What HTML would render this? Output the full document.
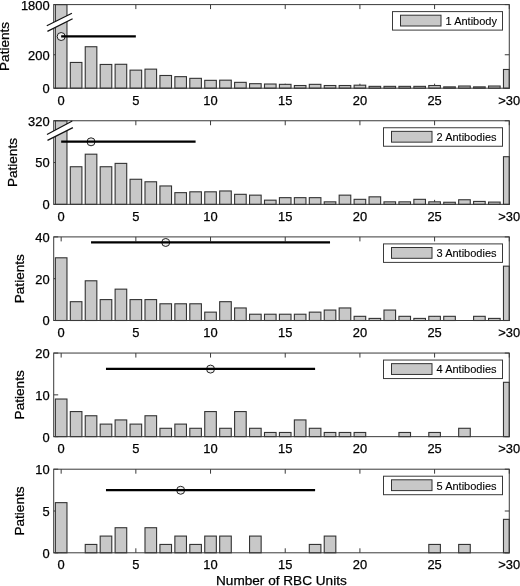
<!DOCTYPE html>
<html><head><meta charset="utf-8"><style>
html,body{margin:0;padding:0;background:#fff;}
svg{display:block;will-change:transform;}
text{font-family:"Liberation Sans", sans-serif;fill:#000;stroke:#000;stroke-width:0.25px;}
.tk{font-size:12.9px;}
.lg{font-size:11px;stroke-width:0.1px;}
.lb{font-size:13.6px;}
</style></head><body>
<svg width="520" height="586" viewBox="0 0 520 586">
<rect width="520" height="586" fill="#fff"/>
<line x1="61.17" y1="88.2" x2="61.17" y2="83.7" stroke="#3a3a3a" stroke-width="1"/>
<line x1="61.17" y1="4.6" x2="61.17" y2="9.1" stroke="#3a3a3a" stroke-width="1"/>
<line x1="135.85" y1="88.2" x2="135.85" y2="83.7" stroke="#3a3a3a" stroke-width="1"/>
<line x1="135.85" y1="4.6" x2="135.85" y2="9.1" stroke="#3a3a3a" stroke-width="1"/>
<line x1="210.54" y1="88.2" x2="210.54" y2="83.7" stroke="#3a3a3a" stroke-width="1"/>
<line x1="210.54" y1="4.6" x2="210.54" y2="9.1" stroke="#3a3a3a" stroke-width="1"/>
<line x1="285.22" y1="88.2" x2="285.22" y2="83.7" stroke="#3a3a3a" stroke-width="1"/>
<line x1="285.22" y1="4.6" x2="285.22" y2="9.1" stroke="#3a3a3a" stroke-width="1"/>
<line x1="359.91" y1="88.2" x2="359.91" y2="83.7" stroke="#3a3a3a" stroke-width="1"/>
<line x1="359.91" y1="4.6" x2="359.91" y2="9.1" stroke="#3a3a3a" stroke-width="1"/>
<line x1="434.59" y1="88.2" x2="434.59" y2="83.7" stroke="#3a3a3a" stroke-width="1"/>
<line x1="434.59" y1="4.6" x2="434.59" y2="9.1" stroke="#3a3a3a" stroke-width="1"/>
<line x1="509.28" y1="88.2" x2="509.28" y2="83.7" stroke="#3a3a3a" stroke-width="1"/>
<line x1="509.28" y1="4.6" x2="509.28" y2="9.1" stroke="#3a3a3a" stroke-width="1"/>
<line x1="53.7" y1="88.2" x2="58.2" y2="88.2" stroke="#3a3a3a" stroke-width="1"/>
<line x1="509.28" y1="88.2" x2="504.78" y2="88.2" stroke="#3a3a3a" stroke-width="1"/>
<line x1="53.7" y1="54.76" x2="58.2" y2="54.76" stroke="#3a3a3a" stroke-width="1"/>
<line x1="509.28" y1="54.76" x2="504.78" y2="54.76" stroke="#3a3a3a" stroke-width="1"/>
<line x1="53.7" y1="4.6" x2="58.2" y2="4.6" stroke="#3a3a3a" stroke-width="1"/>
<line x1="509.28" y1="4.6" x2="504.78" y2="4.6" stroke="#3a3a3a" stroke-width="1"/>
<rect x="55.37" y="4.6" width="11.6" height="83.6" fill="#c8c8c8" stroke="#333" stroke-width="1.1"/>
<rect x="70.31" y="62.45" width="11.6" height="25.75" fill="#c8c8c8" stroke="#333" stroke-width="1.1"/>
<rect x="85.24" y="46.73" width="11.6" height="41.47" fill="#c8c8c8" stroke="#333" stroke-width="1.1"/>
<rect x="100.18" y="64.46" width="11.6" height="23.74" fill="#c8c8c8" stroke="#333" stroke-width="1.1"/>
<rect x="115.12" y="64.29" width="11.6" height="23.91" fill="#c8c8c8" stroke="#333" stroke-width="1.1"/>
<rect x="130.05" y="70.14" width="11.6" height="18.06" fill="#c8c8c8" stroke="#333" stroke-width="1.1"/>
<rect x="144.99" y="69.14" width="11.6" height="19.06" fill="#c8c8c8" stroke="#333" stroke-width="1.1"/>
<rect x="159.93" y="75.49" width="11.6" height="12.71" fill="#c8c8c8" stroke="#333" stroke-width="1.1"/>
<rect x="174.86" y="76.66" width="11.6" height="11.54" fill="#c8c8c8" stroke="#333" stroke-width="1.1"/>
<rect x="189.8" y="78.34" width="11.6" height="9.86" fill="#c8c8c8" stroke="#333" stroke-width="1.1"/>
<rect x="204.74" y="80.34" width="11.6" height="7.86" fill="#c8c8c8" stroke="#333" stroke-width="1.1"/>
<rect x="219.68" y="80.17" width="11.6" height="8.03" fill="#c8c8c8" stroke="#333" stroke-width="1.1"/>
<rect x="234.61" y="82.35" width="11.6" height="5.85" fill="#c8c8c8" stroke="#333" stroke-width="1.1"/>
<rect x="249.55" y="83.69" width="11.6" height="4.51" fill="#c8c8c8" stroke="#333" stroke-width="1.1"/>
<rect x="264.49" y="84.02" width="11.6" height="4.18" fill="#c8c8c8" stroke="#333" stroke-width="1.1"/>
<rect x="279.42" y="84.35" width="11.6" height="3.85" fill="#c8c8c8" stroke="#333" stroke-width="1.1"/>
<rect x="294.36" y="85.52" width="11.6" height="2.68" fill="#c8c8c8" stroke="#333" stroke-width="1.1"/>
<rect x="309.3" y="84.35" width="11.6" height="3.85" fill="#c8c8c8" stroke="#333" stroke-width="1.1"/>
<rect x="324.23" y="85.52" width="11.6" height="2.68" fill="#c8c8c8" stroke="#333" stroke-width="1.1"/>
<rect x="339.17" y="85.52" width="11.6" height="2.68" fill="#c8c8c8" stroke="#333" stroke-width="1.1"/>
<rect x="354.11" y="85.19" width="11.6" height="3.01" fill="#c8c8c8" stroke="#333" stroke-width="1.1"/>
<rect x="369.05" y="86.36" width="11.6" height="1.84" fill="#c8c8c8" stroke="#333" stroke-width="1.1"/>
<rect x="383.98" y="86.36" width="11.6" height="1.84" fill="#c8c8c8" stroke="#333" stroke-width="1.1"/>
<rect x="398.92" y="86.36" width="11.6" height="1.84" fill="#c8c8c8" stroke="#333" stroke-width="1.1"/>
<rect x="413.86" y="86.36" width="11.6" height="1.84" fill="#c8c8c8" stroke="#333" stroke-width="1.1"/>
<rect x="428.79" y="85.52" width="11.6" height="2.68" fill="#c8c8c8" stroke="#333" stroke-width="1.1"/>
<rect x="443.73" y="86.86" width="11.6" height="1.34" fill="#c8c8c8" stroke="#333" stroke-width="1.1"/>
<rect x="458.67" y="86.03" width="11.6" height="2.17" fill="#c8c8c8" stroke="#333" stroke-width="1.1"/>
<rect x="473.6" y="86.86" width="11.6" height="1.34" fill="#c8c8c8" stroke="#333" stroke-width="1.1"/>
<rect x="488.54" y="86.03" width="11.6" height="2.17" fill="#c8c8c8" stroke="#333" stroke-width="1.1"/>
<rect x="503.48" y="69.47" width="5.8" height="18.73" fill="#c8c8c8" stroke="#333" stroke-width="1.1"/>
<text x="61.17" y="104.6" text-anchor="middle" class="tk">0</text>
<text x="135.85" y="104.6" text-anchor="middle" class="tk">5</text>
<text x="210.54" y="104.6" text-anchor="middle" class="tk">10</text>
<text x="285.22" y="104.6" text-anchor="middle" class="tk">15</text>
<text x="359.91" y="104.6" text-anchor="middle" class="tk">20</text>
<text x="434.59" y="104.6" text-anchor="middle" class="tk">25</text>
<text x="509.28" y="104.6" text-anchor="middle" class="tk">&gt;30</text>
<text x="49.6" y="93.1" text-anchor="end" class="tk">0</text>
<text x="49.6" y="59.66" text-anchor="end" class="tk">200</text>
<text x="49.6" y="9.5" text-anchor="end" class="tk">1800</text>
<rect x="53.7" y="4.6" width="455.58" height="83.6" fill="none" stroke="#3a3a3a" stroke-width="1"/>
<polygon points="46.8,25.8 71.9,13.2 72.6,18.8 47.4,31.4" fill="#fff"/>
<line x1="46.8" y1="25.8" x2="71.9" y2="13.2" stroke="#111" stroke-width="1.2"/>
<line x1="47.4" y1="31.4" x2="72.6" y2="18.8" stroke="#111" stroke-width="1.2"/>
<circle cx="61.17" cy="36.52" r="4" fill="#eee" stroke="#222" stroke-width="1"/>
<line x1="61.17" y1="36.37" x2="135.85" y2="36.37" stroke="#000" stroke-width="2.3"/>
<rect x="392.5" y="11.6" width="110" height="18.5" fill="#fff" stroke="#3a3a3a" stroke-width="1"/>
<rect x="400.5" y="15.2" width="40.5" height="10.8" fill="#c8c8c8" stroke="#333" stroke-width="1"/>
<text x="445.6" y="25" class="lg">1 Antibody</text>
<text transform="translate(9.3,46.4) rotate(-90)" text-anchor="middle" class="lb">Patients</text>
<line x1="61.17" y1="204.35" x2="61.17" y2="199.85" stroke="#3a3a3a" stroke-width="1"/>
<line x1="61.17" y1="120.75" x2="61.17" y2="125.25" stroke="#3a3a3a" stroke-width="1"/>
<line x1="135.85" y1="204.35" x2="135.85" y2="199.85" stroke="#3a3a3a" stroke-width="1"/>
<line x1="135.85" y1="120.75" x2="135.85" y2="125.25" stroke="#3a3a3a" stroke-width="1"/>
<line x1="210.54" y1="204.35" x2="210.54" y2="199.85" stroke="#3a3a3a" stroke-width="1"/>
<line x1="210.54" y1="120.75" x2="210.54" y2="125.25" stroke="#3a3a3a" stroke-width="1"/>
<line x1="285.22" y1="204.35" x2="285.22" y2="199.85" stroke="#3a3a3a" stroke-width="1"/>
<line x1="285.22" y1="120.75" x2="285.22" y2="125.25" stroke="#3a3a3a" stroke-width="1"/>
<line x1="359.91" y1="204.35" x2="359.91" y2="199.85" stroke="#3a3a3a" stroke-width="1"/>
<line x1="359.91" y1="120.75" x2="359.91" y2="125.25" stroke="#3a3a3a" stroke-width="1"/>
<line x1="434.59" y1="204.35" x2="434.59" y2="199.85" stroke="#3a3a3a" stroke-width="1"/>
<line x1="434.59" y1="120.75" x2="434.59" y2="125.25" stroke="#3a3a3a" stroke-width="1"/>
<line x1="509.28" y1="204.35" x2="509.28" y2="199.85" stroke="#3a3a3a" stroke-width="1"/>
<line x1="509.28" y1="120.75" x2="509.28" y2="125.25" stroke="#3a3a3a" stroke-width="1"/>
<line x1="53.7" y1="204.35" x2="58.2" y2="204.35" stroke="#3a3a3a" stroke-width="1"/>
<line x1="509.28" y1="204.35" x2="504.78" y2="204.35" stroke="#3a3a3a" stroke-width="1"/>
<line x1="53.7" y1="162.55" x2="58.2" y2="162.55" stroke="#3a3a3a" stroke-width="1"/>
<line x1="509.28" y1="162.55" x2="504.78" y2="162.55" stroke="#3a3a3a" stroke-width="1"/>
<line x1="53.7" y1="120.75" x2="58.2" y2="120.75" stroke="#3a3a3a" stroke-width="1"/>
<line x1="509.28" y1="120.75" x2="504.78" y2="120.75" stroke="#3a3a3a" stroke-width="1"/>
<rect x="55.37" y="120.75" width="11.6" height="83.6" fill="#c8c8c8" stroke="#333" stroke-width="1.1"/>
<rect x="70.31" y="166.73" width="11.6" height="37.62" fill="#c8c8c8" stroke="#333" stroke-width="1.1"/>
<rect x="85.24" y="154.19" width="11.6" height="50.16" fill="#c8c8c8" stroke="#333" stroke-width="1.1"/>
<rect x="100.18" y="166.73" width="11.6" height="37.62" fill="#c8c8c8" stroke="#333" stroke-width="1.1"/>
<rect x="115.12" y="163.39" width="11.6" height="40.96" fill="#c8c8c8" stroke="#333" stroke-width="1.1"/>
<rect x="130.05" y="179.27" width="11.6" height="25.08" fill="#c8c8c8" stroke="#333" stroke-width="1.1"/>
<rect x="144.99" y="181.78" width="11.6" height="22.57" fill="#c8c8c8" stroke="#333" stroke-width="1.1"/>
<rect x="159.93" y="185.96" width="11.6" height="18.39" fill="#c8c8c8" stroke="#333" stroke-width="1.1"/>
<rect x="174.86" y="192.65" width="11.6" height="11.7" fill="#c8c8c8" stroke="#333" stroke-width="1.1"/>
<rect x="189.8" y="191.81" width="11.6" height="12.54" fill="#c8c8c8" stroke="#333" stroke-width="1.1"/>
<rect x="204.74" y="191.81" width="11.6" height="12.54" fill="#c8c8c8" stroke="#333" stroke-width="1.1"/>
<rect x="219.68" y="190.97" width="11.6" height="13.38" fill="#c8c8c8" stroke="#333" stroke-width="1.1"/>
<rect x="234.61" y="194.32" width="11.6" height="10.03" fill="#c8c8c8" stroke="#333" stroke-width="1.1"/>
<rect x="249.55" y="195.15" width="11.6" height="9.2" fill="#c8c8c8" stroke="#333" stroke-width="1.1"/>
<rect x="264.49" y="200.17" width="11.6" height="4.18" fill="#c8c8c8" stroke="#333" stroke-width="1.1"/>
<rect x="279.42" y="197.66" width="11.6" height="6.69" fill="#c8c8c8" stroke="#333" stroke-width="1.1"/>
<rect x="294.36" y="197.66" width="11.6" height="6.69" fill="#c8c8c8" stroke="#333" stroke-width="1.1"/>
<rect x="309.3" y="197.66" width="11.6" height="6.69" fill="#c8c8c8" stroke="#333" stroke-width="1.1"/>
<rect x="324.23" y="201.84" width="11.6" height="2.51" fill="#c8c8c8" stroke="#333" stroke-width="1.1"/>
<rect x="339.17" y="195.15" width="11.6" height="9.2" fill="#c8c8c8" stroke="#333" stroke-width="1.1"/>
<rect x="354.11" y="199.33" width="11.6" height="5.02" fill="#c8c8c8" stroke="#333" stroke-width="1.1"/>
<rect x="369.05" y="196.83" width="11.6" height="7.52" fill="#c8c8c8" stroke="#333" stroke-width="1.1"/>
<rect x="383.98" y="201.84" width="11.6" height="2.51" fill="#c8c8c8" stroke="#333" stroke-width="1.1"/>
<rect x="398.92" y="201.84" width="11.6" height="2.51" fill="#c8c8c8" stroke="#333" stroke-width="1.1"/>
<rect x="413.86" y="199.33" width="11.6" height="5.02" fill="#c8c8c8" stroke="#333" stroke-width="1.1"/>
<rect x="428.79" y="201.84" width="11.6" height="2.51" fill="#c8c8c8" stroke="#333" stroke-width="1.1"/>
<rect x="443.73" y="202.26" width="11.6" height="2.09" fill="#c8c8c8" stroke="#333" stroke-width="1.1"/>
<rect x="458.67" y="199.75" width="11.6" height="4.6" fill="#c8c8c8" stroke="#333" stroke-width="1.1"/>
<rect x="473.6" y="201.42" width="11.6" height="2.93" fill="#c8c8c8" stroke="#333" stroke-width="1.1"/>
<rect x="488.54" y="202.09" width="11.6" height="2.26" fill="#c8c8c8" stroke="#333" stroke-width="1.1"/>
<rect x="503.48" y="156.7" width="5.8" height="47.65" fill="#c8c8c8" stroke="#333" stroke-width="1.1"/>
<text x="61.17" y="220.75" text-anchor="middle" class="tk">0</text>
<text x="135.85" y="220.75" text-anchor="middle" class="tk">5</text>
<text x="210.54" y="220.75" text-anchor="middle" class="tk">10</text>
<text x="285.22" y="220.75" text-anchor="middle" class="tk">15</text>
<text x="359.91" y="220.75" text-anchor="middle" class="tk">20</text>
<text x="434.59" y="220.75" text-anchor="middle" class="tk">25</text>
<text x="509.28" y="220.75" text-anchor="middle" class="tk">&gt;30</text>
<text x="49.6" y="209.25" text-anchor="end" class="tk">0</text>
<text x="49.6" y="167.45" text-anchor="end" class="tk">50</text>
<text x="49.6" y="125.65" text-anchor="end" class="tk">320</text>
<rect x="53.7" y="120.75" width="455.58" height="83.6" fill="none" stroke="#3a3a3a" stroke-width="1"/>
<polygon points="47,134.55 72.3,121.05 72.9,127.65 47.5,140.35" fill="#fff"/>
<line x1="47" y1="134.55" x2="72.3" y2="121.05" stroke="#111" stroke-width="1.2"/>
<line x1="47.5" y1="140.35" x2="72.9" y2="127.65" stroke="#111" stroke-width="1.2"/>
<circle cx="91.04" cy="141.8" r="4" fill="#eee" stroke="#222" stroke-width="1"/>
<line x1="61.17" y1="141.65" x2="195.6" y2="141.65" stroke="#000" stroke-width="2.3"/>
<rect x="383.5" y="127.75" width="119" height="18.5" fill="#fff" stroke="#3a3a3a" stroke-width="1"/>
<rect x="391.5" y="131.35" width="40.5" height="10.8" fill="#c8c8c8" stroke="#333" stroke-width="1"/>
<text x="436.6" y="141.15" class="lg">2 Antibodies</text>
<text transform="translate(17,162.55) rotate(-90)" text-anchor="middle" class="lb">Patients</text>
<line x1="61.17" y1="320.5" x2="61.17" y2="316" stroke="#3a3a3a" stroke-width="1"/>
<line x1="61.17" y1="236.9" x2="61.17" y2="241.4" stroke="#3a3a3a" stroke-width="1"/>
<line x1="135.85" y1="320.5" x2="135.85" y2="316" stroke="#3a3a3a" stroke-width="1"/>
<line x1="135.85" y1="236.9" x2="135.85" y2="241.4" stroke="#3a3a3a" stroke-width="1"/>
<line x1="210.54" y1="320.5" x2="210.54" y2="316" stroke="#3a3a3a" stroke-width="1"/>
<line x1="210.54" y1="236.9" x2="210.54" y2="241.4" stroke="#3a3a3a" stroke-width="1"/>
<line x1="285.22" y1="320.5" x2="285.22" y2="316" stroke="#3a3a3a" stroke-width="1"/>
<line x1="285.22" y1="236.9" x2="285.22" y2="241.4" stroke="#3a3a3a" stroke-width="1"/>
<line x1="359.91" y1="320.5" x2="359.91" y2="316" stroke="#3a3a3a" stroke-width="1"/>
<line x1="359.91" y1="236.9" x2="359.91" y2="241.4" stroke="#3a3a3a" stroke-width="1"/>
<line x1="434.59" y1="320.5" x2="434.59" y2="316" stroke="#3a3a3a" stroke-width="1"/>
<line x1="434.59" y1="236.9" x2="434.59" y2="241.4" stroke="#3a3a3a" stroke-width="1"/>
<line x1="509.28" y1="320.5" x2="509.28" y2="316" stroke="#3a3a3a" stroke-width="1"/>
<line x1="509.28" y1="236.9" x2="509.28" y2="241.4" stroke="#3a3a3a" stroke-width="1"/>
<line x1="53.7" y1="320.5" x2="58.2" y2="320.5" stroke="#3a3a3a" stroke-width="1"/>
<line x1="509.28" y1="320.5" x2="504.78" y2="320.5" stroke="#3a3a3a" stroke-width="1"/>
<line x1="53.7" y1="278.7" x2="58.2" y2="278.7" stroke="#3a3a3a" stroke-width="1"/>
<line x1="509.28" y1="278.7" x2="504.78" y2="278.7" stroke="#3a3a3a" stroke-width="1"/>
<line x1="53.7" y1="236.9" x2="58.2" y2="236.9" stroke="#3a3a3a" stroke-width="1"/>
<line x1="509.28" y1="236.9" x2="504.78" y2="236.9" stroke="#3a3a3a" stroke-width="1"/>
<rect x="55.37" y="257.8" width="11.6" height="62.7" fill="#c8c8c8" stroke="#333" stroke-width="1.1"/>
<rect x="70.31" y="301.69" width="11.6" height="18.81" fill="#c8c8c8" stroke="#333" stroke-width="1.1"/>
<rect x="85.24" y="280.79" width="11.6" height="39.71" fill="#c8c8c8" stroke="#333" stroke-width="1.1"/>
<rect x="100.18" y="299.6" width="11.6" height="20.9" fill="#c8c8c8" stroke="#333" stroke-width="1.1"/>
<rect x="115.12" y="289.15" width="11.6" height="31.35" fill="#c8c8c8" stroke="#333" stroke-width="1.1"/>
<rect x="130.05" y="299.6" width="11.6" height="20.9" fill="#c8c8c8" stroke="#333" stroke-width="1.1"/>
<rect x="144.99" y="299.6" width="11.6" height="20.9" fill="#c8c8c8" stroke="#333" stroke-width="1.1"/>
<rect x="159.93" y="303.78" width="11.6" height="16.72" fill="#c8c8c8" stroke="#333" stroke-width="1.1"/>
<rect x="174.86" y="303.78" width="11.6" height="16.72" fill="#c8c8c8" stroke="#333" stroke-width="1.1"/>
<rect x="189.8" y="303.78" width="11.6" height="16.72" fill="#c8c8c8" stroke="#333" stroke-width="1.1"/>
<rect x="204.74" y="312.14" width="11.6" height="8.36" fill="#c8c8c8" stroke="#333" stroke-width="1.1"/>
<rect x="219.68" y="301.69" width="11.6" height="18.81" fill="#c8c8c8" stroke="#333" stroke-width="1.1"/>
<rect x="234.61" y="307.96" width="11.6" height="12.54" fill="#c8c8c8" stroke="#333" stroke-width="1.1"/>
<rect x="249.55" y="314.23" width="11.6" height="6.27" fill="#c8c8c8" stroke="#333" stroke-width="1.1"/>
<rect x="264.49" y="314.23" width="11.6" height="6.27" fill="#c8c8c8" stroke="#333" stroke-width="1.1"/>
<rect x="279.42" y="314.23" width="11.6" height="6.27" fill="#c8c8c8" stroke="#333" stroke-width="1.1"/>
<rect x="294.36" y="314.23" width="11.6" height="6.27" fill="#c8c8c8" stroke="#333" stroke-width="1.1"/>
<rect x="309.3" y="312.14" width="11.6" height="8.36" fill="#c8c8c8" stroke="#333" stroke-width="1.1"/>
<rect x="324.23" y="310.05" width="11.6" height="10.45" fill="#c8c8c8" stroke="#333" stroke-width="1.1"/>
<rect x="339.17" y="307.96" width="11.6" height="12.54" fill="#c8c8c8" stroke="#333" stroke-width="1.1"/>
<rect x="354.11" y="316.32" width="11.6" height="4.18" fill="#c8c8c8" stroke="#333" stroke-width="1.1"/>
<rect x="369.05" y="318.41" width="11.6" height="2.09" fill="#c8c8c8" stroke="#333" stroke-width="1.1"/>
<rect x="383.98" y="310.05" width="11.6" height="10.45" fill="#c8c8c8" stroke="#333" stroke-width="1.1"/>
<rect x="398.92" y="316.32" width="11.6" height="4.18" fill="#c8c8c8" stroke="#333" stroke-width="1.1"/>
<rect x="413.86" y="318.41" width="11.6" height="2.09" fill="#c8c8c8" stroke="#333" stroke-width="1.1"/>
<rect x="428.79" y="316.32" width="11.6" height="4.18" fill="#c8c8c8" stroke="#333" stroke-width="1.1"/>
<rect x="443.73" y="316.32" width="11.6" height="4.18" fill="#c8c8c8" stroke="#333" stroke-width="1.1"/>
<rect x="473.6" y="316.32" width="11.6" height="4.18" fill="#c8c8c8" stroke="#333" stroke-width="1.1"/>
<rect x="488.54" y="318.41" width="11.6" height="2.09" fill="#c8c8c8" stroke="#333" stroke-width="1.1"/>
<rect x="503.48" y="266.16" width="5.8" height="54.34" fill="#c8c8c8" stroke="#333" stroke-width="1.1"/>
<text x="61.17" y="336.9" text-anchor="middle" class="tk">0</text>
<text x="135.85" y="336.9" text-anchor="middle" class="tk">5</text>
<text x="210.54" y="336.9" text-anchor="middle" class="tk">10</text>
<text x="285.22" y="336.9" text-anchor="middle" class="tk">15</text>
<text x="359.91" y="336.9" text-anchor="middle" class="tk">20</text>
<text x="434.59" y="336.9" text-anchor="middle" class="tk">25</text>
<text x="509.28" y="336.9" text-anchor="middle" class="tk">&gt;30</text>
<text x="49.6" y="325.4" text-anchor="end" class="tk">0</text>
<text x="49.6" y="283.6" text-anchor="end" class="tk">20</text>
<text x="49.6" y="241.8" text-anchor="end" class="tk">40</text>
<rect x="53.7" y="236.9" width="455.58" height="83.6" fill="none" stroke="#3a3a3a" stroke-width="1"/>
<circle cx="165.73" cy="242.48" r="4" fill="#eee" stroke="#222" stroke-width="1"/>
<line x1="91.04" y1="242.33" x2="330.03" y2="242.33" stroke="#000" stroke-width="2.3"/>
<rect x="383.5" y="243.9" width="119" height="18.5" fill="#fff" stroke="#3a3a3a" stroke-width="1"/>
<rect x="391.5" y="247.5" width="40.5" height="10.8" fill="#c8c8c8" stroke="#333" stroke-width="1"/>
<text x="436.6" y="257.3" class="lg">3 Antibodies</text>
<text transform="translate(24.4,278.7) rotate(-90)" text-anchor="middle" class="lb">Patients</text>
<line x1="61.17" y1="436.65" x2="61.17" y2="432.15" stroke="#3a3a3a" stroke-width="1"/>
<line x1="61.17" y1="353.05" x2="61.17" y2="357.55" stroke="#3a3a3a" stroke-width="1"/>
<line x1="135.85" y1="436.65" x2="135.85" y2="432.15" stroke="#3a3a3a" stroke-width="1"/>
<line x1="135.85" y1="353.05" x2="135.85" y2="357.55" stroke="#3a3a3a" stroke-width="1"/>
<line x1="210.54" y1="436.65" x2="210.54" y2="432.15" stroke="#3a3a3a" stroke-width="1"/>
<line x1="210.54" y1="353.05" x2="210.54" y2="357.55" stroke="#3a3a3a" stroke-width="1"/>
<line x1="285.22" y1="436.65" x2="285.22" y2="432.15" stroke="#3a3a3a" stroke-width="1"/>
<line x1="285.22" y1="353.05" x2="285.22" y2="357.55" stroke="#3a3a3a" stroke-width="1"/>
<line x1="359.91" y1="436.65" x2="359.91" y2="432.15" stroke="#3a3a3a" stroke-width="1"/>
<line x1="359.91" y1="353.05" x2="359.91" y2="357.55" stroke="#3a3a3a" stroke-width="1"/>
<line x1="434.59" y1="436.65" x2="434.59" y2="432.15" stroke="#3a3a3a" stroke-width="1"/>
<line x1="434.59" y1="353.05" x2="434.59" y2="357.55" stroke="#3a3a3a" stroke-width="1"/>
<line x1="509.28" y1="436.65" x2="509.28" y2="432.15" stroke="#3a3a3a" stroke-width="1"/>
<line x1="509.28" y1="353.05" x2="509.28" y2="357.55" stroke="#3a3a3a" stroke-width="1"/>
<line x1="53.7" y1="436.65" x2="58.2" y2="436.65" stroke="#3a3a3a" stroke-width="1"/>
<line x1="509.28" y1="436.65" x2="504.78" y2="436.65" stroke="#3a3a3a" stroke-width="1"/>
<line x1="53.7" y1="394.85" x2="58.2" y2="394.85" stroke="#3a3a3a" stroke-width="1"/>
<line x1="509.28" y1="394.85" x2="504.78" y2="394.85" stroke="#3a3a3a" stroke-width="1"/>
<line x1="53.7" y1="353.05" x2="58.2" y2="353.05" stroke="#3a3a3a" stroke-width="1"/>
<line x1="509.28" y1="353.05" x2="504.78" y2="353.05" stroke="#3a3a3a" stroke-width="1"/>
<rect x="55.37" y="399.03" width="11.6" height="37.62" fill="#c8c8c8" stroke="#333" stroke-width="1.1"/>
<rect x="70.31" y="411.57" width="11.6" height="25.08" fill="#c8c8c8" stroke="#333" stroke-width="1.1"/>
<rect x="85.24" y="415.75" width="11.6" height="20.9" fill="#c8c8c8" stroke="#333" stroke-width="1.1"/>
<rect x="100.18" y="424.11" width="11.6" height="12.54" fill="#c8c8c8" stroke="#333" stroke-width="1.1"/>
<rect x="115.12" y="419.93" width="11.6" height="16.72" fill="#c8c8c8" stroke="#333" stroke-width="1.1"/>
<rect x="130.05" y="424.11" width="11.6" height="12.54" fill="#c8c8c8" stroke="#333" stroke-width="1.1"/>
<rect x="144.99" y="415.75" width="11.6" height="20.9" fill="#c8c8c8" stroke="#333" stroke-width="1.1"/>
<rect x="159.93" y="428.29" width="11.6" height="8.36" fill="#c8c8c8" stroke="#333" stroke-width="1.1"/>
<rect x="174.86" y="424.11" width="11.6" height="12.54" fill="#c8c8c8" stroke="#333" stroke-width="1.1"/>
<rect x="189.8" y="428.29" width="11.6" height="8.36" fill="#c8c8c8" stroke="#333" stroke-width="1.1"/>
<rect x="204.74" y="411.57" width="11.6" height="25.08" fill="#c8c8c8" stroke="#333" stroke-width="1.1"/>
<rect x="219.68" y="428.29" width="11.6" height="8.36" fill="#c8c8c8" stroke="#333" stroke-width="1.1"/>
<rect x="234.61" y="411.57" width="11.6" height="25.08" fill="#c8c8c8" stroke="#333" stroke-width="1.1"/>
<rect x="249.55" y="428.29" width="11.6" height="8.36" fill="#c8c8c8" stroke="#333" stroke-width="1.1"/>
<rect x="264.49" y="432.47" width="11.6" height="4.18" fill="#c8c8c8" stroke="#333" stroke-width="1.1"/>
<rect x="279.42" y="432.47" width="11.6" height="4.18" fill="#c8c8c8" stroke="#333" stroke-width="1.1"/>
<rect x="294.36" y="419.93" width="11.6" height="16.72" fill="#c8c8c8" stroke="#333" stroke-width="1.1"/>
<rect x="309.3" y="428.29" width="11.6" height="8.36" fill="#c8c8c8" stroke="#333" stroke-width="1.1"/>
<rect x="324.23" y="432.47" width="11.6" height="4.18" fill="#c8c8c8" stroke="#333" stroke-width="1.1"/>
<rect x="339.17" y="432.47" width="11.6" height="4.18" fill="#c8c8c8" stroke="#333" stroke-width="1.1"/>
<rect x="354.11" y="432.47" width="11.6" height="4.18" fill="#c8c8c8" stroke="#333" stroke-width="1.1"/>
<rect x="398.92" y="432.47" width="11.6" height="4.18" fill="#c8c8c8" stroke="#333" stroke-width="1.1"/>
<rect x="428.79" y="432.47" width="11.6" height="4.18" fill="#c8c8c8" stroke="#333" stroke-width="1.1"/>
<rect x="458.67" y="428.29" width="11.6" height="8.36" fill="#c8c8c8" stroke="#333" stroke-width="1.1"/>
<rect x="503.48" y="382.31" width="5.8" height="54.34" fill="#c8c8c8" stroke="#333" stroke-width="1.1"/>
<text x="61.17" y="453.05" text-anchor="middle" class="tk">0</text>
<text x="135.85" y="453.05" text-anchor="middle" class="tk">5</text>
<text x="210.54" y="453.05" text-anchor="middle" class="tk">10</text>
<text x="285.22" y="453.05" text-anchor="middle" class="tk">15</text>
<text x="359.91" y="453.05" text-anchor="middle" class="tk">20</text>
<text x="434.59" y="453.05" text-anchor="middle" class="tk">25</text>
<text x="509.28" y="453.05" text-anchor="middle" class="tk">&gt;30</text>
<text x="49.6" y="441.55" text-anchor="end" class="tk">0</text>
<text x="49.6" y="399.75" text-anchor="end" class="tk">10</text>
<text x="49.6" y="357.95" text-anchor="end" class="tk">20</text>
<rect x="53.7" y="353.05" width="455.58" height="83.6" fill="none" stroke="#3a3a3a" stroke-width="1"/>
<circle cx="210.54" cy="369.08" r="4" fill="#eee" stroke="#222" stroke-width="1"/>
<line x1="105.98" y1="368.93" x2="315.1" y2="368.93" stroke="#000" stroke-width="2.3"/>
<rect x="383.5" y="360.05" width="119" height="18.5" fill="#fff" stroke="#3a3a3a" stroke-width="1"/>
<rect x="391.5" y="363.65" width="40.5" height="10.8" fill="#c8c8c8" stroke="#333" stroke-width="1"/>
<text x="436.6" y="373.45" class="lg">4 Antibodies</text>
<text transform="translate(24.4,394.85) rotate(-90)" text-anchor="middle" class="lb">Patients</text>
<line x1="61.17" y1="552.8" x2="61.17" y2="548.3" stroke="#3a3a3a" stroke-width="1"/>
<line x1="61.17" y1="469.2" x2="61.17" y2="473.7" stroke="#3a3a3a" stroke-width="1"/>
<line x1="135.85" y1="552.8" x2="135.85" y2="548.3" stroke="#3a3a3a" stroke-width="1"/>
<line x1="135.85" y1="469.2" x2="135.85" y2="473.7" stroke="#3a3a3a" stroke-width="1"/>
<line x1="210.54" y1="552.8" x2="210.54" y2="548.3" stroke="#3a3a3a" stroke-width="1"/>
<line x1="210.54" y1="469.2" x2="210.54" y2="473.7" stroke="#3a3a3a" stroke-width="1"/>
<line x1="285.22" y1="552.8" x2="285.22" y2="548.3" stroke="#3a3a3a" stroke-width="1"/>
<line x1="285.22" y1="469.2" x2="285.22" y2="473.7" stroke="#3a3a3a" stroke-width="1"/>
<line x1="359.91" y1="552.8" x2="359.91" y2="548.3" stroke="#3a3a3a" stroke-width="1"/>
<line x1="359.91" y1="469.2" x2="359.91" y2="473.7" stroke="#3a3a3a" stroke-width="1"/>
<line x1="434.59" y1="552.8" x2="434.59" y2="548.3" stroke="#3a3a3a" stroke-width="1"/>
<line x1="434.59" y1="469.2" x2="434.59" y2="473.7" stroke="#3a3a3a" stroke-width="1"/>
<line x1="509.28" y1="552.8" x2="509.28" y2="548.3" stroke="#3a3a3a" stroke-width="1"/>
<line x1="509.28" y1="469.2" x2="509.28" y2="473.7" stroke="#3a3a3a" stroke-width="1"/>
<line x1="53.7" y1="552.8" x2="58.2" y2="552.8" stroke="#3a3a3a" stroke-width="1"/>
<line x1="509.28" y1="552.8" x2="504.78" y2="552.8" stroke="#3a3a3a" stroke-width="1"/>
<line x1="53.7" y1="511" x2="58.2" y2="511" stroke="#3a3a3a" stroke-width="1"/>
<line x1="509.28" y1="511" x2="504.78" y2="511" stroke="#3a3a3a" stroke-width="1"/>
<line x1="53.7" y1="469.2" x2="58.2" y2="469.2" stroke="#3a3a3a" stroke-width="1"/>
<line x1="509.28" y1="469.2" x2="504.78" y2="469.2" stroke="#3a3a3a" stroke-width="1"/>
<rect x="55.37" y="502.64" width="11.6" height="50.16" fill="#c8c8c8" stroke="#333" stroke-width="1.1"/>
<rect x="85.24" y="544.44" width="11.6" height="8.36" fill="#c8c8c8" stroke="#333" stroke-width="1.1"/>
<rect x="100.18" y="536.08" width="11.6" height="16.72" fill="#c8c8c8" stroke="#333" stroke-width="1.1"/>
<rect x="115.12" y="527.72" width="11.6" height="25.08" fill="#c8c8c8" stroke="#333" stroke-width="1.1"/>
<rect x="144.99" y="527.72" width="11.6" height="25.08" fill="#c8c8c8" stroke="#333" stroke-width="1.1"/>
<rect x="159.93" y="544.44" width="11.6" height="8.36" fill="#c8c8c8" stroke="#333" stroke-width="1.1"/>
<rect x="174.86" y="536.08" width="11.6" height="16.72" fill="#c8c8c8" stroke="#333" stroke-width="1.1"/>
<rect x="189.8" y="544.44" width="11.6" height="8.36" fill="#c8c8c8" stroke="#333" stroke-width="1.1"/>
<rect x="204.74" y="536.08" width="11.6" height="16.72" fill="#c8c8c8" stroke="#333" stroke-width="1.1"/>
<rect x="219.68" y="536.08" width="11.6" height="16.72" fill="#c8c8c8" stroke="#333" stroke-width="1.1"/>
<rect x="249.55" y="536.08" width="11.6" height="16.72" fill="#c8c8c8" stroke="#333" stroke-width="1.1"/>
<rect x="309.3" y="544.44" width="11.6" height="8.36" fill="#c8c8c8" stroke="#333" stroke-width="1.1"/>
<rect x="324.23" y="536.08" width="11.6" height="16.72" fill="#c8c8c8" stroke="#333" stroke-width="1.1"/>
<rect x="428.79" y="544.44" width="11.6" height="8.36" fill="#c8c8c8" stroke="#333" stroke-width="1.1"/>
<rect x="458.67" y="544.44" width="11.6" height="8.36" fill="#c8c8c8" stroke="#333" stroke-width="1.1"/>
<rect x="503.48" y="519.36" width="5.8" height="33.44" fill="#c8c8c8" stroke="#333" stroke-width="1.1"/>
<text x="61.17" y="569.2" text-anchor="middle" class="tk">0</text>
<text x="135.85" y="569.2" text-anchor="middle" class="tk">5</text>
<text x="210.54" y="569.2" text-anchor="middle" class="tk">10</text>
<text x="285.22" y="569.2" text-anchor="middle" class="tk">15</text>
<text x="359.91" y="569.2" text-anchor="middle" class="tk">20</text>
<text x="434.59" y="569.2" text-anchor="middle" class="tk">25</text>
<text x="509.28" y="569.2" text-anchor="middle" class="tk">&gt;30</text>
<text x="49.6" y="557.7" text-anchor="end" class="tk">0</text>
<text x="49.6" y="515.9" text-anchor="end" class="tk">5</text>
<text x="49.6" y="474.1" text-anchor="end" class="tk">10</text>
<rect x="53.7" y="469.2" width="455.58" height="83.6" fill="none" stroke="#3a3a3a" stroke-width="1"/>
<circle cx="180.66" cy="490.25" r="4" fill="#eee" stroke="#222" stroke-width="1"/>
<line x1="105.98" y1="490.1" x2="315.1" y2="490.1" stroke="#000" stroke-width="2.3"/>
<rect x="383.5" y="476.2" width="119" height="18.5" fill="#fff" stroke="#3a3a3a" stroke-width="1"/>
<rect x="391.5" y="479.8" width="40.5" height="10.8" fill="#c8c8c8" stroke="#333" stroke-width="1"/>
<text x="436.6" y="489.6" class="lg">5 Antibodies</text>
<text transform="translate(24.4,511) rotate(-90)" text-anchor="middle" class="lb">Patients</text>
<text x="281.4" y="584.9" text-anchor="middle" class="lb">Number of RBC Units</text>
</svg>
</body></html>
